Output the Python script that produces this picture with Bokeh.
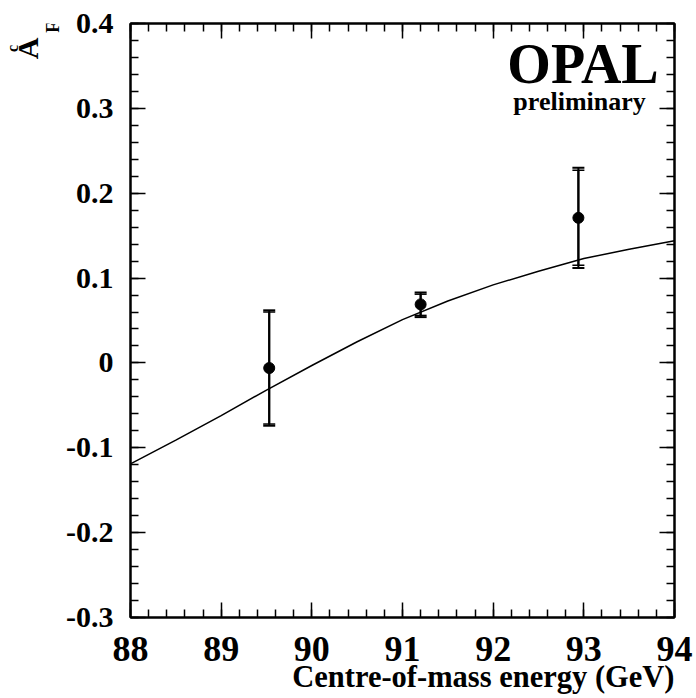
import numpy as np
from bokeh.plotting import figure
from bokeh.layouts import row
from bokeh.models import (Range1d, LinearAxis, FixedTicker, Whisker, TeeHead,
                          ColumnDataSource, Label, Title)
from bokeh.embed import file_html
from bokeh.resources import INLINE

# ---- data ----
energy = [89.53, 91.20, 92.94]
afb = [-0.006, 0.069, 0.171]
tot_up = [0.062, 0.083, 0.230]
tot_dn = [-0.074, 0.054, 0.112]
stat_up = [0.060, 0.081, 0.227]
stat_dn = [-0.072, 0.056, 0.115]

curve_x = [88.0, 88.5, 89.0, 89.5, 90.0, 90.5, 91.0, 91.5, 92.0, 92.5, 93.0, 93.5, 94.0]
curve_y = [-0.119, -0.091, -0.062, -0.032, -0.003, 0.025, 0.051, 0.073, 0.092,
           0.108, 0.123, 0.134, 0.144]

x_ticks = [88, 89, 90, 91, 92, 93, 94]
x_tick_labels = ["88", "89", "90", "91", "92", "93", "94"]
y_ticks = [-0.3, -0.2, -0.1, 0.0, 0.1, 0.2, 0.3, 0.4]
y_tick_labels = ["-0.3", "-0.2", "-0.1", "0", "0.1", "0.2", "0.3", "0.4"]

x_title = "Centre-of-mass energy (GeV)"
y_title = ["A", "c", "FB"]

FONT = "Liberation Serif"
LEFT_W = 63

# ---- main plot ----
p = figure(width=696 - LEFT_W, height=698, x_range=Range1d(88, 94),
           y_range=Range1d(-0.3, 0.4),
           output_backend="svg", toolbar_location=None,
           min_border_left=129 - LEFT_W, min_border_right=22, min_border_top=23,
           min_border_bottom=81)
p.xgrid.visible = False
p.ygrid.visible = False
p.outline_line_color = "black"
p.outline_line_width = 2
p.background_fill_color = "white"
p.border_fill_color = "white"

x_minor = [round(88 + 0.2 * i, 2) for i in range(31)]
y_minor = [round(-0.3 + 0.02 * i, 3) for i in range(36)]


def style(ax):
    ax.axis_line_width = 2
    ax.axis_line_color = "black"
    ax.major_tick_in = 15
    ax.major_tick_out = 0
    ax.minor_tick_in = 8
    ax.minor_tick_out = 0
    ax.major_tick_line_width = 1.5
    ax.minor_tick_line_width = 1.5
    ax.major_label_text_font = FONT
    ax.major_label_text_font_style = "bold"
    ax.major_label_text_color = "black"


p.xaxis.ticker = FixedTicker(ticks=x_ticks, minor_ticks=x_minor)
p.yaxis.ticker = FixedTicker(ticks=y_ticks, minor_ticks=y_minor)
style(p.xaxis[0])
style(p.yaxis[0])
p.xaxis.major_label_overrides = dict(zip(x_ticks, x_tick_labels))
p.yaxis.major_label_overrides = dict(zip(y_ticks, y_tick_labels))
p.xaxis.major_label_text_font_size = "36px"
p.yaxis.major_label_text_font_size = "30px"
p.xaxis.major_label_standoff = 19
p.yaxis.major_label_standoff = 17

top = LinearAxis(ticker=FixedTicker(ticks=x_ticks, minor_ticks=x_minor))
right = LinearAxis(ticker=FixedTicker(ticks=y_ticks, minor_ticks=y_minor))
for ax, ticks in ((top, x_ticks), (right, y_ticks)):
    style(ax)
    ax.major_label_overrides = {t: "" for t in ticks}
    ax.major_label_text_font_size = "8px"
    ax.major_label_standoff = 0
p.add_layout(top, "above")
p.add_layout(right, "right")

# x-axis title, right aligned under the frame
p.add_layout(Title(text=x_title, align="right", vertical_align="top", standoff=-8,
                   offset=0, text_font=FONT, text_font_style="bold",
                   text_font_size="30.5px", text_color="black"), "below")

# curve
p.line(curve_x, curve_y, line_color="black", line_width=1.5)

# error bars
src = ColumnDataSource(dict(x=energy, y=afb, tu=tot_up, td=tot_dn, su=stat_up, sd=stat_dn))
p.add_layout(Whisker(source=src, base="x", upper="tu", lower="td", line_width=2,
                     line_color="black",
                     upper_head=TeeHead(size=12, line_width=2, line_color="black"),
                     lower_head=TeeHead(size=12, line_width=2, line_color="black")))
p.add_layout(Whisker(source=src, base="x", upper="su", lower="sd", line_width=2,
                     line_color="black",
                     upper_head=TeeHead(size=12, line_width=1.5, line_color="black"),
                     lower_head=TeeHead(size=12, line_width=1.5, line_color="black")))
p.scatter("x", "y", source=src, size=11, color="black")

p.add_layout(Label(x=93.826, y=0.3525, text="OPAL", text_align="right",
                   text_baseline="alphabetic", text_font=FONT, text_font_style="bold",
                   text_font_size="56px", text_color="black"))
p.add_layout(Label(x=93.683, y=0.3084, text="preliminary", text_align="right",
                   text_baseline="alphabetic", text_font=FONT, text_font_style="bold",
                   text_font_size="26px", text_color="black"))

# ---- left strip with rotated y title (pixel coordinates) ----
left = figure(width=LEFT_W, height=698, x_range=Range1d(0, LEFT_W), y_range=Range1d(0, 698),
              output_backend="svg", toolbar_location=None, x_axis_type=None,
              y_axis_type=None, min_border=0, outline_line_color=None)
left.xgrid.visible = False
left.ygrid.visible = False
left.add_layout(Label(x=26.5, y=656, text=y_title[0], angle=np.pi / 2, text_align="left",
                      text_baseline="alphabetic", text_font=FONT, text_font_style="bold",
                      text_font_size="30px", text_color="black"))
left.add_layout(Label(x=12.4, y=664.5, text=y_title[1], angle=np.pi / 2, text_align="left",
                      text_baseline="alphabetic", text_font=FONT, text_font_style="bold",
                      text_font_size="16px", text_color="black"))
left.add_layout(Label(x=52.5, y=687, text=y_title[2], angle=np.pi / 2, text_align="left",
                      text_baseline="alphabetic", text_font=FONT, text_font_style="bold",
                      text_font_size="18px", text_color="black"))

layout = row(left, p)
open("out.html", "w").write(file_html(layout, INLINE))
